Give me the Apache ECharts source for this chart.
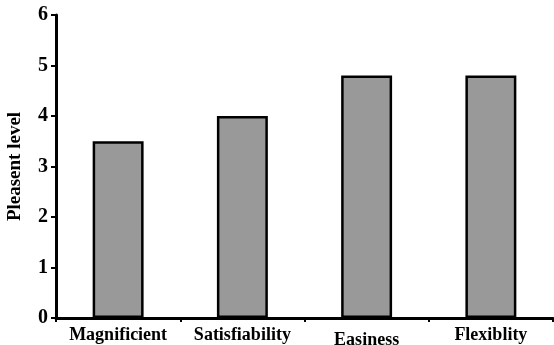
<!DOCTYPE html>
<html>
<head>
<meta charset="utf-8">
<script src="https://cdn.jsdelivr.net/npm/echarts@6/dist/echarts.min.js"></script>
<style>
html,body{margin:0;padding:0;background:#fff;}
#c{width:554px;height:345px;}
</style>
</head>
<body>
<div id="c"></div>
<script>
var categories = ['Magnificient', 'Satisfiability', 'Easiness', 'Flexiblity'];
var values = [3.5, 4.0, 4.8, 4.8];
var yName = 'Pleasent level';

var font = '"Liberation Serif", "Times New Roman", serif';
var chart = echarts.init(document.getElementById('c'), null, {renderer: 'canvas'});
chart.setOption({
  animation: false,
  backgroundColor: '#fff',
  grid: {left: 56, right: 1, top: 15, bottom: 27, containLabel: false, outerBoundsMode: 'none'},
  xAxis: {
    type: 'category',
    data: categories,
    boundaryGap: true,
    axisLine: {lineStyle: {color: '#000', width: 3}},
    axisTick: {show: true, alignWithLabel: false, length: 4, lineStyle: {color: '#000', width: 2}},
    axisLabel: {
      interval: 0, hideOverlap: false,
      color: '#000', fontFamily: font, fontWeight: 'bold', fontSize: 18, margin: 8,
      formatter: function (v) { return v === 'Easiness' ? '{e|' + v + '}' : v; },
      rich: {e: {fontFamily: font, fontWeight: 'bold', fontSize: 18, color: '#000', padding: [5, 0, 0, 0]}}
    }
  },
  yAxis: {
    type: 'value',
    min: 0, max: 6, interval: 1,
    name: yName,
    nameLocation: 'middle',
    nameGap: 31,
    nameTextStyle: {color: '#000', fontFamily: font, fontWeight: 'bold', fontSize: 19},
    axisLine: {show: true, lineStyle: {color: '#000', width: 3}},
    axisTick: {show: true, length: 5, lineStyle: {color: '#000', width: 2}},
    axisLabel: {color: '#000', fontFamily: font, fontWeight: 'bold', fontSize: 20, margin: 8},
    splitLine: {show: false}
  },
  series: [{
    type: 'bar',
    data: values,
    barWidth: '41%',
    itemStyle: {color: '#999999', borderColor: '#000', borderWidth: 2.5}
  }]
});
</script>
</body>
</html>
